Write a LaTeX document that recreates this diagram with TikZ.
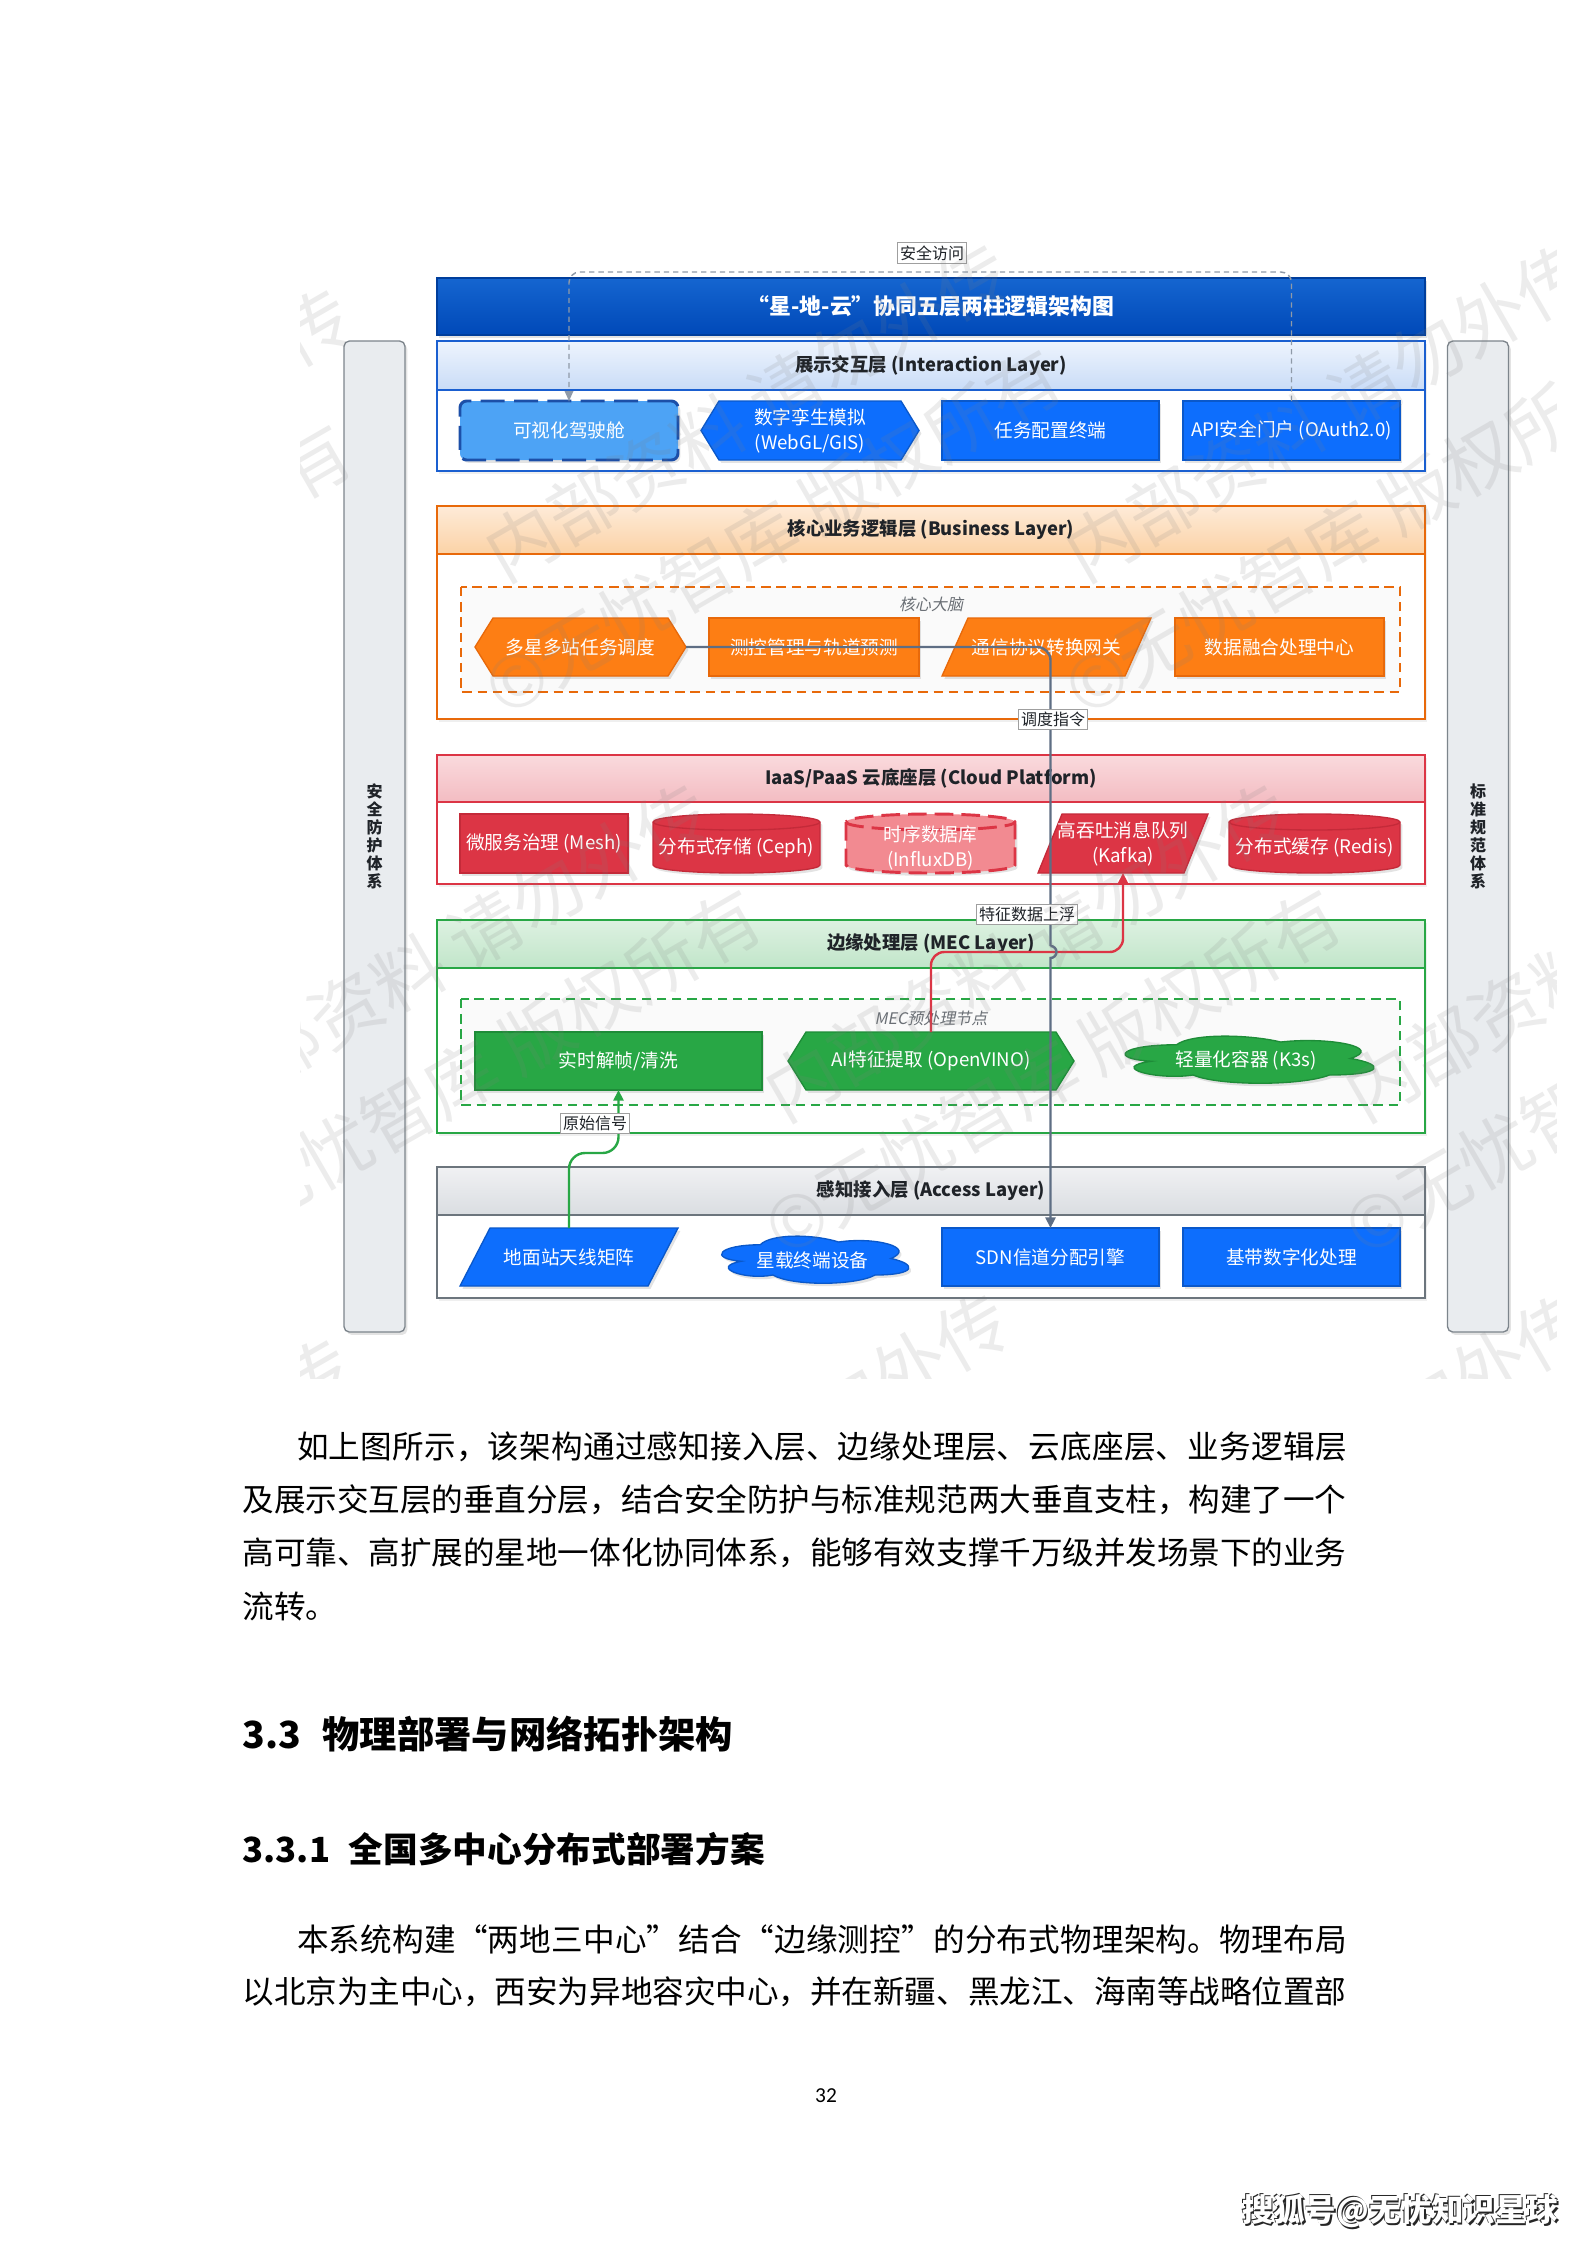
\documentclass[tikz,border=0pt]{standalone}
\usepackage{fontspec}
\setmainfont{Noto Sans CJK SC}
\newfontfamily\slfont{Noto Sans CJK SC}[FakeSlant=0.2]
\newfontfamily\carlito{Carlito}
\usetikzlibrary{arrows.meta,shadows}

\definecolor{bluefill}{HTML}{0D6EFD}
\definecolor{bluedraw}{HTML}{0A58CA}
\definecolor{lightblue}{HTML}{4DA3F5}
\definecolor{cockpitdraw}{HTML}{1C4FA8}
\definecolor{titletop}{HTML}{1565D0}
\definecolor{titlebot}{HTML}{0049B8}
\definecolor{intdraw}{HTML}{1A5FD0}
\definecolor{inttop}{HTML}{EEF4FD}
\definecolor{intbot}{HTML}{C9DCF7}
\definecolor{orgfill}{HTML}{FD7E14}
\definecolor{orgdraw}{HTML}{E8690A}
\definecolor{bustop}{HTML}{FEEBD8}
\definecolor{busbot}{HTML}{FBD2A6}
\definecolor{redfill}{HTML}{DC3545}
\definecolor{reddraw}{HTML}{C42A39}
\definecolor{pinkfill}{HTML}{F28A91}
\definecolor{cldtop}{HTML}{FADADD}
\definecolor{cldbot}{HTML}{F3BCC2}
\definecolor{grnfill}{HTML}{28A745}
\definecolor{grndraw}{HTML}{1E8C38}
\definecolor{mectop}{HTML}{DDF1E1}
\definecolor{mecbot}{HTML}{C1E5C9}
\definecolor{accdraw}{HTML}{6C757D}
\definecolor{acctop}{HTML}{F0F1F3}
\definecolor{accbot}{HTML}{DADDE1}
\definecolor{pilfill}{HTML}{E9ECEF}
\definecolor{pildraw}{HTML}{7D858C}
\definecolor{conngray}{HTML}{5E6E84}
\definecolor{dotgray}{HTML}{8F9AA8}
\definecolor{hdrtext}{HTML}{1F2328}
\definecolor{grptext}{HTML}{6A6F75}

\makeatletter
\newcommand\spreadto[2]{\hbox to #1{\@tfor\sp@c:=#2\do{\sp@c\hskip 0pt plus 1fil minus 0.6pt\relax}\unskip}}
\makeatother

\tikzset{
  nshadow/.style={drop shadow={opacity=0.22,shadow xshift=0.9pt,shadow yshift=-1.1pt}},
  lshadow/.style={drop shadow={opacity=0.12,shadow xshift=0.8pt,shadow yshift=-1.2pt}},
  lab/.style={font=\fontsize{7}{9.4}\selectfont, text=white, align=center, inner sep=0pt, outer sep=0pt},
  hdr/.style={font=\fontsize{6.9}{8}\bfseries, text=hdrtext, inner sep=0pt},
  bluebox/.style={lab, fill=bluefill, draw=bluedraw, line width=0.5pt, nshadow},
  orgbox/.style={lab, fill=orgfill, draw=orgdraw, line width=0.5pt, nshadow},
  redbox/.style={lab, fill=redfill, draw=reddraw, line width=0.5pt, nshadow},
  grnbox/.style={lab, fill=grnfill, draw=grndraw, line width=0.5pt, nshadow},
  cockpit/.style={lab, fill=lightblue, draw=cockpitdraw, line width=1.1pt, dash pattern=on 9pt off 3.5pt, rounded corners=2.5pt, nshadow},
  pillar/.style={minimum width={61*0.375pt}, minimum height={991*0.375pt}, fill=pilfill, draw=pildraw, line width=0.5pt, rounded corners=2pt, align=center, font=\fontsize{6}{6.7}\bfseries, text=hdrtext, inner sep=0pt, nshadow},
  grpdash/.style={dash pattern=on 3.5pt off 2.2pt, line width=0.55pt, fill=gray!4},
  grplab/.style={font=\slfont\fontsize{6}{7}\selectfont, text=grptext, inner sep=0pt},
  elab/.style={font=\fontsize{6}{7}\selectfont, text=hdrtext, fill=white, draw=gray!75, line width=0.3pt, inner sep=1pt},
  tipa/.style={-{Triangle[length=4pt,width=3.8pt]}},
  gconn/.style={draw=conngray, line width=0.9pt},
  rconn/.style={draw=redfill, line width=0.9pt},
  gnconn/.style={draw=grnfill, line width=0.9pt},
  dconn/.style={draw=dotgray, line width=0.55pt, dash pattern=on 2pt off 1.5pt},
  para/.style={font=\fontsize{11.85}{14}\selectfont, text=black, inner sep=0pt, anchor=west},
  wm/.style={font=\fontsize{27}{27}\selectfont, text=gray, opacity=0.15, inner sep=0pt, rotate=30, anchor=west},
  sohu/.style={font=\fontsize{11.8}{14}\bfseries, inner sep=0pt}
}

% name x1 y1 x2 y2 style text
\newcommand\rbox[7]{\node[#6, minimum width={(#4-#2)*0.375pt}, minimum height={(#5-#3)*0.375pt}] (#1) at ({(#2+#4)/2},{(#3+#5)/2}) {#7};}
% name x1 y1 x2 y2 d style text
\newcommand\hexbox[8]{%
  \filldraw[#7, nshadow] (#2,{(#3+#5)/2}) -- ({#2+#6},#3) -- ({#4-#6},#3) -- (#4,{(#3+#5)/2}) -- ({#4-#6},#5) -- ({#2+#6},#5) -- cycle;
  \node[lab, minimum width={(#4-#2)*0.375pt}, minimum height={(#5-#3)*0.375pt}] (#1) at ({(#2+#4)/2},{(#3+#5)/2}) {#8};}
\newcommand\plgbox[8]{%
  \filldraw[#7, nshadow] ({#2+#6},#3) -- (#4,#3) -- ({#4-#6},#5) -- (#2,#5) -- cycle;
  \node[lab, minimum width={(#4-#2)*0.375pt}, minimum height={(#5-#3)*0.375pt}] (#1) at ({(#2+#4)/2},{(#3+#5)/2}) {#8};}
% name x1 y1 x2 y2 style rimstyle text
\newcommand\cylbox[8]{%
  \filldraw[#6, nshadow] (#2,{#3+8}) -- (#2,{#5-8}) arc[start angle=180,end angle=360,x radius={(#4-#2)/2*0.375pt},y radius=3pt] -- (#4,{#3+8}) arc[start angle=0,end angle=180,x radius={(#4-#2)/2*0.375pt},y radius=3pt] -- cycle;
  \draw[#7] (#2,{#3+8}) arc[start angle=180,end angle=360,x radius={(#4-#2)/2*0.375pt},y radius=3pt];
  \node[lab, minimum width={(#4-#2)*0.375pt}, minimum height={(#5-#3)*0.375pt}] (#1) at ({(#2+#4)/2},{(#3+#5)/2+4}) {#8};}
% name x1 y1 x2 y2 style text  (draw.io cloud outline)
\newcommand\cloudbox[7]{%
  \pgfmathsetmacro\cw{#4-#2}\pgfmathsetmacro\ch{#5-#3}%
  \filldraw[#6, nshadow] ({#2+0.25*\cw},{#3+0.25*\ch})
    .. controls ({#2+0.05*\cw},{#3+0.25*\ch}) and ({#2},{#3+0.5*\ch}) .. ({#2+0.16*\cw},{#3+0.55*\ch})
    .. controls ({#2},{#3+0.66*\ch}) and ({#2+0.18*\cw},{#3+0.9*\ch}) .. ({#2+0.31*\cw},{#3+0.8*\ch})
    .. controls ({#2+0.4*\cw},{#3+\ch}) and ({#2+0.7*\cw},{#3+\ch}) .. ({#2+0.8*\cw},{#3+0.8*\ch})
    .. controls ({#2+\cw},{#3+0.8*\ch}) and ({#2+\cw},{#3+0.6*\ch}) .. ({#2+0.875*\cw},{#3+0.5*\ch})
    .. controls ({#2+\cw},{#3+0.3*\ch}) and ({#2+0.8*\cw},{#3+0.1*\ch}) .. ({#2+0.625*\cw},{#3+0.2*\ch})
    .. controls ({#2+0.5*\cw},{#3+0.05*\ch}) and ({#2+0.3*\cw},{#3+0.05*\ch}) .. ({#2+0.25*\cw},{#3+0.25*\ch}) -- cycle;
  \node[lab, minimum width={(#4-#2)*0.375pt}, minimum height={(#5-#3)*0.375pt}] (#1) at ({(#2+#4)/2},{(#3+#5)/2+2}) {#7};}
% name y1 yh y2 draw top bot text
\newcommand\lay[8]{%
  \draw[#5, line width=0.6pt, fill=white, lshadow] (437,#2) rectangle (1425,#4);
  \draw[#5, line width=0.6pt, top color=#6, bottom color=#7] (437,#2) rectangle (1425,#3);
  \node[hdr] (#1) at (931,{(#2+#3)/2}) {#8};}

\begin{document}
\begin{tikzpicture}[x=0.375pt,y=-0.375pt]
\useasboundingbox (0,0) rectangle (1587,2245);
\fill[white] (0,0) rectangle (1587,2245);

% pillars
\node[pillar] (lpil) at (374.5,836.5) {安\\全\\防\\护\\体\\系};
\node[pillar] (rpil) at (1478,836.5) {标\\准\\规\\范\\体\\系};

% title
\node[font=\fontsize{8.2}{10}\bfseries, text=white, top color=titletop, bottom color=titlebot, draw=titlebot!85!black, line width=0.4pt, minimum width={988*0.375pt}, minimum height={57*0.375pt}, inner sep=0pt, nshadow] (title) at (931,306.5) {“星-地-云”协同五层两柱逻辑架构图};

% layers
\lay{hint}{341}{390}{471}{intdraw}{inttop}{intbot}{展示交互层 (Interaction Layer)}
\lay{hbus}{506}{554}{719}{orgdraw}{bustop}{busbot}{核心业务逻辑层 (Business Layer)}
\lay{hcld}{755}{802}{884}{redfill}{cldtop}{cldbot}{IaaS/PaaS 云底座层 (Cloud Platform)}
\lay{hmec}{920}{968}{1133}{grnfill}{mectop}{mecbot}{边缘处理层 (MEC Layer)}
\lay{hacc}{1167}{1215}{1298}{accdraw}{acctop}{accbot}{感知接入层 (Access Layer)}

% groups
\draw[grpdash, draw=orgdraw] (461,587) rectangle (1400,692);
\node[grplab] (gbrain) at (931,604) {核心大脑};
\draw[grpdash, draw=grnfill] (461,999) rectangle (1400,1105);
\node[grplab] (gmec) at (931,1018) {MEC预处理节点};

% interaction nodes
\rbox{cockpit}{460}{401}{678}{460}{cockpit}{可视化驾驶舱}
\hexbox{twin}{701}{401}{919}{460}{18}{fill=bluefill, draw=bluedraw, line width=0.5pt}{数字孪生模拟\\(WebGL/GIS)}
\rbox{taskcfg}{942}{401}{1159}{460}{bluebox}{任务配置终端}
\rbox{api}{1183}{401}{1400}{460}{bluebox}{API安全门户 (OAuth2.0)}

% business nodes
\hexbox{sched}{475}{618}{686}{676}{18}{fill=orgfill, draw=orgdraw, line width=0.5pt}{多星多站任务调度}
\rbox{ttc}{709}{618}{919}{676}{orgbox}{测控管理与轨道预测}
\plgbox{gw}{942}{618}{1151}{676}{26}{fill=orgfill, draw=orgdraw, line width=0.5pt}{通信协议转换网关}
\rbox{fusion}{1175}{618}{1384}{676}{orgbox}{数据融合处理中心}

% cloud nodes
\rbox{mesh}{460}{814}{628}{873}{redbox}{微服务治理 (Mesh)}
\cylbox{ceph}{653}{814}{820}{873}{fill=redfill, draw=reddraw, line width=0.5pt}{draw=reddraw, line width=0.5pt}{分布式存储 (Ceph)}
\cylbox{influx}{846}{814}{1015}{873}{fill=pinkfill, draw=redfill, line width=1.1pt, dash pattern=on 7pt off 3pt}{draw=redfill, line width=1.1pt, dash pattern=on 7pt off 3pt}{时序数据库\\(InfluxDB)}
\plgbox{kafka}{1038}{814}{1208}{873}{24}{fill=redfill, draw=reddraw, line width=0.5pt}{高吞吐消息队列\\(Kafka)}
\cylbox{redis}{1229}{814}{1400}{873}{fill=redfill, draw=reddraw, line width=0.5pt}{draw=reddraw, line width=0.5pt}{分布式缓存 (Redis)}

% MEC nodes
\rbox{clean}{475}{1032}{762}{1090}{grnbox}{实时解帧/清洗}
\hexbox{ai}{788}{1032}{1074}{1090}{18}{fill=grnfill, draw=grndraw, line width=0.5pt}{AI特征提取 (OpenVINO)}
\cloudbox{k3s}{1107}{1031}{1385}{1086}{fill=grnfill, draw=grndraw, line width=0.5pt}{轻量化容器 (K3s)}

% access nodes
\plgbox{ground}{460}{1228}{678}{1286}{30}{fill=bluefill, draw=bluedraw, line width=0.5pt}{地面站天线矩阵}
\cloudbox{sat}{708}{1231}{917}{1286}{fill=bluefill, draw=bluedraw, line width=0.5pt}{星载终端设备}
\rbox{sdn}{942}{1228}{1159}{1286}{bluebox}{SDN信道分配引擎}
\rbox{bb}{1183}{1228}{1400}{1286}{bluebox}{基带数字化处理}

% connectors
\coordinate (jtop) at (0,272);
\coordinate (jred) at (0,952);
\coordinate (jbump) at (0,946);
\coordinate (jgrn) at (0,1153);
\draw[dconn, rounded corners=4pt] (api.north) -- (api.north |- jtop) -- (cockpit.north |- jtop) -- (cockpit.north);
\fill[dotgray] (cockpit.north) -- ++(-4.5,-10) -- ++(9,0) -- cycle;
\draw[rconn, tipa, rounded corners=5pt] (ai.north) -- (ai.north |- jred) -- (kafka.south |- jred) -- (kafka.south);
\draw[gconn, rounded corners=5pt] (sched.east) -- (sched.east -| sdn.north) -- (sdn.north |- jbump);
\draw[gconn, tipa] (sdn.north |- jbump) arc[start angle=90,end angle=-90,radius=2.25pt] -- (sdn.north);
\draw[gnconn, tipa, rounded corners=6pt] (ground.north) -- (ground.north |- jgrn) -- (clean.south |- jgrn) -- (clean.south);

% edge labels
\node[elab] (lsec) at (932,253) {安全访问};
\node[elab] (lsched) at (1053,719) {调度指令};
\node[elab] (lfeat) at (1027,914) {特征数据上浮};
\node[elab] (lraw) at (595,1123) {原始信号};

% watermark
\begin{scope}
\clip (300,200) rectangle (1556,1378);
\foreach \x/\y in {490/560,1070/560,190/1100,770/1100,1350/1100,490/1610,1070/1610}{
  \node[wm] (wma\x\y) at (\x,\y) {内部资料\ 请勿外传};
  \node[wm] (wmb\x\y) at (\x,{\y+135}) {©无忧智库\ 版权所有};
}
\node[wm] (wmc1) at (95,453) {请勿外传};
\node[wm] (wmc2) at (95,588) {版权所有};
\node[wm] (wmc3) at (95,1503) {请勿外传};
\end{scope}

% body text
\node[para] (p1) at (296.5,1447) {\spreadto{393.6pt}{如上图所示，该架构通过感知接入层、边缘处理层、云底座层、业务逻辑层}};
\node[para] (p2) at (242,1500) {\spreadto{414pt}{及展示交互层的垂直分层，结合安全防护与标准规范两大垂直支柱，构建了一个}};
\node[para] (p3) at (242,1553) {\spreadto{414pt}{高可靠、高扩展的星地一体化协同体系，能够有效支撑千万级并发场景下的业务}};
\node[para] (p4) at (242,1606) {流转。};

\node[anchor=west, font=\fontsize{14}{16}\bfseries, inner sep=0pt] (h33) at (242,1734) {3.3\hspace{8pt}物理部署与网络拓扑架构};
\node[anchor=west, font=\fontsize{13}{15}\bfseries, inner sep=0pt] (h331) at (242,1849) {3.3.1\hspace{7pt}全国多中心分布式部署方案};

\node[para] (p5) at (296.5,1939) {\spreadto{393.6pt}{本系统构建“两地三中心”结合“边缘测控”的分布式物理架构。物理布局}};
\node[para] (p6) at (242,1992) {\spreadto{414pt}{以北京为主中心，西安为异地容灾中心，并在新疆、黑龙江、海南等战略位置部}};

\node[font=\carlito\fontsize{8}{9}\selectfont, inner sep=0pt] (pg) at (826,2096) {32};

% corner watermark
\node[sohu, text=black!85] (shadowa) at (1401.5,2212.5) {搜狐号@无忧知识星球};
\node[sohu, text=black!85] (shadowb) at (1399.3,2210.3) {搜狐号@无忧知识星球};
\node[sohu, text=white] (sohumark) at (1400,2211) {搜狐号@无忧知识星球};
\end{tikzpicture}
\end{document}
